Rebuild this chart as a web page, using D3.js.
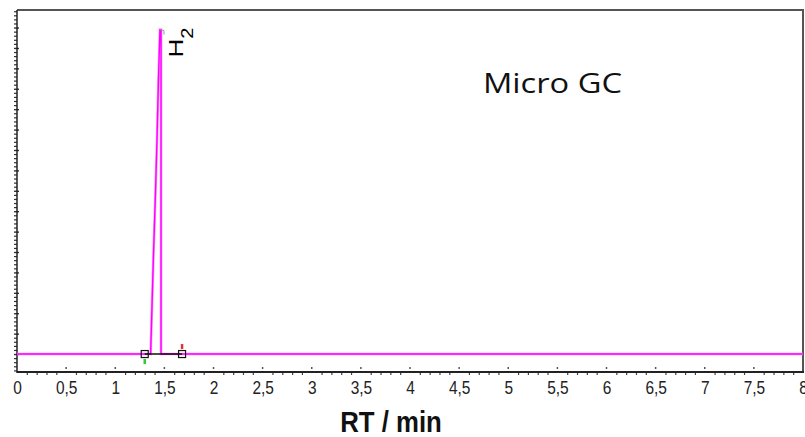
<!DOCTYPE html>
<html>
<head>
<meta charset="utf-8">
<script src="https://cdn.jsdelivr.net/npm/d3@7"></script>
<style>
  html, body { margin: 0; padding: 0; background: #fff; }
  svg { display: block; }
</style>
</head>
<body>
<svg id="chart" width="805" height="437"></svg>
<script>
// ---- data ----
const rtValues = [0, 1.30, 1.36, 1.375, 1.39, 1.41, 1.425, 1.44, 1.455, 1.466, 1.466, 1.68, 8];
const signalValues = [0, 0, 0, 2.5, 5.0, 8.0, 10.5, 13.5, 15.9, 15.9, 0, 0, 0];
const xTickValues = [0, 0.5, 1, 1.5, 2, 2.5, 3, 3.5, 4, 4.5, 5, 5.5, 6, 6.5, 7, 7.5, 8];
const xTickLabels = ["0", "0,5", "1", "1,5", "2", "2,5", "3", "3,5", "4", "4,5", "5", "5,5", "6", "6,5", "7", "7,5", "8"];
const peakName = ["H", "2"];
const peakApex = [1.455, 15.9];
const integrationStart = [1.30, 0];
const integrationEnd = [1.68, 0];
const xDomain = [0, 8];
const yDomain = [-0.88, 16.86];
const annotationText = "Micro GC";
const axisTitle = "RT / min";

// ---- layout ----
const svg = d3.select("#chart");
const mL = 17, mR = 803, mT = 10, mB = 372;

const x = d3.scaleLinear().domain(xDomain).range([mL, mR]);
const y = d3.scaleLinear().domain(yDomain).range([mB, mT]);

// y axis ticks (no labels)
const yMajor = d3.range(0, 17, 1);
const yMinor = d3.range(-0.8, 16.81, 0.2).filter(v => Math.abs(v - Math.round(v)) > 0.05);
const gYm = svg.append("g").attr("transform", `translate(${mL},0)`)
  .call(d3.axisLeft(y).tickValues(yMinor).tickSize(3).tickFormat(""));
gYm.select(".domain").remove();
gYm.selectAll("line").attr("stroke", "#333").attr("stroke-width", 1.2);
const gYM = svg.append("g").attr("transform", `translate(${mL + 2},0)`)
  .call(d3.axisLeft(y).tickValues(yMajor).tickSize(5).tickFormat(""));
gYM.select(".domain").remove();
gYM.selectAll("line").attr("stroke", "#333").attr("stroke-width", 1.4);

// x axis minor ticks (below line)
const xMinor = d3.range(0.1, 8, 0.1).filter(v => Math.abs(v * 2 - Math.round(v * 2)) > 0.01);
const gXm = svg.append("g").attr("transform", `translate(0,${mB})`)
  .call(d3.axisBottom(x).tickValues(xMinor).tickSize(3).tickFormat(""));
gXm.select(".domain").remove();
gXm.selectAll("line").attr("stroke", "#444").attr("stroke-width", 1.2);

// x axis labels
const gX = svg.append("g").attr("transform", `translate(0,${mB})`)
  .call(d3.axisBottom(x).tickValues(xTickValues).tickSize(0).tickPadding(9)
    .tickFormat((d, i) => xTickLabels[i]));
gX.select(".domain").remove();
gX.selectAll("text")
  .attr("font-family", "'Liberation Sans', Arial, sans-serif")
  .attr("font-size", 18)
  .attr("transform", "scale(0.86,1)")
  .attr("fill", "#222");
// major tick marks above the line
svg.append("g").selectAll("line")
  .data(xTickValues.slice(1, -1))
  .join("line")
  .attr("x1", d => x(d)).attr("x2", d => x(d))
  .attr("y1", mB - 5).attr("y2", mB - 3)
  .attr("stroke", "#555").attr("stroke-width", 1.5);

// frame
svg.append("line").attr("x1", mL).attr("x2", mR + 1).attr("y1", mT).attr("y2", mT)
  .attr("stroke", "#555").attr("stroke-width", 2);
svg.append("line").attr("x1", mR).attr("x2", mR).attr("y1", mT).attr("y2", mB)
  .attr("stroke", "#555").attr("stroke-width", 2);
svg.append("line").attr("x1", mL).attr("x2", mL).attr("y1", mT).attr("y2", mB + 1)
  .attr("stroke", "#222").attr("stroke-width", 1.5);
svg.append("line").attr("x1", mL).attr("x2", mR + 1).attr("y1", mB).attr("y2", mB)
  .attr("stroke", "#222").attr("stroke-width", 2);

// chromatogram trace
const pts = rtValues.map((r, i) => [r, signalValues[i]]);
const line = d3.line().x(d => x(d[0])).y(d => y(d[1]));
svg.append("path").datum(pts).attr("d", line)
  .attr("fill", "none").attr("stroke", "#ff99ff").attr("stroke-width", 2.6);
svg.append("path").datum(pts).attr("d", line)
  .attr("fill", "none").attr("stroke", "#ff00ff").attr("stroke-width", 1.4);

// apex marker (gray)
const ax = x(peakApex[0]), ay = y(peakApex[1]);
svg.append("path")
  .attr("d", `M${ax},${ay} L${ax + 4},${ay + 1} L${ax + 4},${ay + 5}`)
  .attr("fill", "none").attr("stroke", "#999").attr("stroke-width", 1);

// integration baseline and markers
svg.append("line")
  .attr("x1", x(integrationStart[0])).attr("x2", x(integrationEnd[0]))
  .attr("y1", y(integrationStart[1])).attr("y2", y(integrationEnd[1]))
  .attr("stroke", "#111").attr("stroke-width", 1.5);
[integrationStart, integrationEnd].forEach(p => {
  svg.append("rect")
    .attr("x", x(p[0]) - 3.5).attr("y", y(p[1]) - 3.5)
    .attr("width", 7).attr("height", 7)
    .attr("fill", "none").attr("stroke", "#111").attr("stroke-width", 1.2);
});
svg.append("line")
  .attr("x1", x(integrationStart[0])).attr("x2", x(integrationStart[0]))
  .attr("y1", y(0) + 5).attr("y2", y(0) + 10)
  .attr("stroke", "#3c3").attr("stroke-width", 2.5);
svg.append("line")
  .attr("x1", x(integrationEnd[0])).attr("x2", x(integrationEnd[0]))
  .attr("y1", y(0) - 10).attr("y2", y(0) - 5)
  .attr("stroke", "#d33").attr("stroke-width", 2.5);

// peak label (rotated H2)
const lbl = svg.append("text")
  .attr("transform", `translate(${ax + 23},${ay + 28}) rotate(-90) scale(1,0.8)`)
  .attr("font-family", "'Liberation Sans', Arial, sans-serif")
  .attr("font-size", 26)
  .attr("fill", "#000");
lbl.append("tspan").text(peakName[0]);
lbl.append("tspan").attr("dy", 12).attr("dx", 0).attr("font-size", 20).text(peakName[1]);

// annotation
svg.append("text")
  .attr("x", 483).attr("y", 93)
  .attr("font-family", "'Open Sans', 'Noto Sans', sans-serif")
  .attr("font-size", 27)
  .attr("textLength", 139)
  .attr("lengthAdjust", "spacingAndGlyphs")
  .attr("fill", "#111")
  .text(annotationText);

// axis title
svg.append("text")
  .attr("transform", `translate(391,432) scale(0.86,1)`)
  .attr("text-anchor", "middle")
  .attr("font-family", "'Liberation Sans', Arial, sans-serif")
  .attr("font-weight", "bold")
  .attr("font-size", 30)
  .attr("fill", "#111")
  .text(axisTitle);
</script>
</body>
</html>
